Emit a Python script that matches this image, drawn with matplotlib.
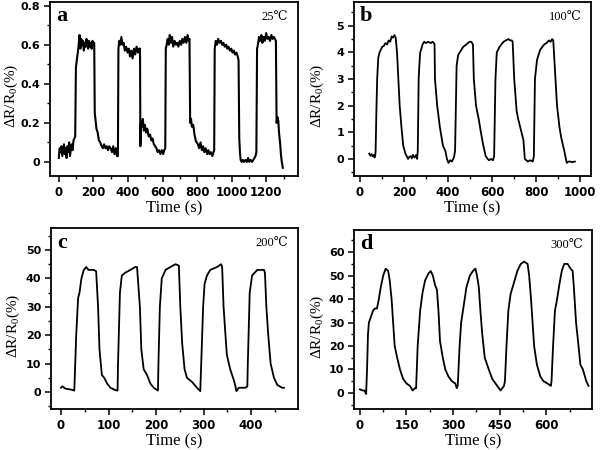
import matplotlib

matplotlib.use("Agg")

import matplotlib.pyplot as plt  # noqa: E402
from matplotlib.ticker import MultipleLocator  # noqa: E402

plt.rcParams["mathtext.default"] = "regular"

SERIF = ["Liberation Serif", "DejaVu Serif"]
SANS = ["DejaVu Sans"]

# panel a, 25 C
a_time = [0, 5, 10, 15, 20, 25, 30, 35, 40, 45, 50, 55, 60, 65, 70, 75, 80, 85, 90, 95,
          99, 104, 110, 115, 120, 125, 130, 135, 140, 145, 150, 155, 160, 165, 170, 175,
          180, 185, 190, 195, 200, 205, 208, 212, 218, 225, 232, 240, 248, 255, 262, 270,
          278, 285, 292, 300, 308, 315, 322, 330, 336, 342, 345, 350, 355, 362, 368, 375,
          382, 390, 398, 405, 412, 420, 427, 435, 442, 450, 458, 465, 470, 472, 475, 480,
          486, 492, 498, 505, 512, 520, 528, 535, 542, 550, 558, 565, 572, 580, 588, 596,
          604, 610, 616, 619, 624, 630, 636, 642, 648, 655, 662, 670, 678, 685, 692, 700,
          708, 715, 722, 730, 738, 745, 752, 756, 760, 765, 770, 778, 785, 792, 798, 805,
          812, 820, 828, 835, 842, 850, 858, 865, 872, 880, 888, 895, 899, 902, 908, 915,
          922, 930, 938, 945, 952, 960, 968, 975, 982, 990, 998, 1005, 1012, 1020, 1028,
          1035, 1040, 1044, 1048, 1052, 1058, 1065, 1072, 1080, 1088, 1095, 1102, 1110,
          1118, 1125, 1132, 1138, 1143, 1147, 1152, 1158, 1165, 1172, 1178, 1185, 1192,
          1200, 1207, 1214, 1222, 1230, 1237, 1244, 1250, 1256, 1260, 1265, 1270, 1274,
          1280, 1285, 1290, 1296]
a_resp = [0.02, 0.07, 0.05, 0.08, 0.03, 0.06, 0.09, 0.04, 0.07, 0.02, 0.08, 0.05, 0.10,
          0.03, 0.07, 0.09, 0.06, 0.11, 0.12, 0.13, 0.48, 0.52, 0.56, 0.60, 0.65, 0.58,
          0.63, 0.60, 0.62, 0.57, 0.61, 0.59, 0.63, 0.60, 0.58, 0.62, 0.59, 0.61, 0.58,
          0.62, 0.60, 0.61, 0.25, 0.22, 0.17, 0.15, 0.11, 0.10, 0.08, 0.07, 0.09, 0.07,
          0.08, 0.06, 0.08, 0.07, 0.05, 0.08, 0.04, 0.07, 0.03, 0.03, 0.58, 0.62, 0.60,
          0.64, 0.60, 0.61, 0.57, 0.59, 0.56, 0.58, 0.54, 0.57, 0.53, 0.58, 0.55, 0.59,
          0.56, 0.58, 0.58, 0.08, 0.20, 0.18, 0.22, 0.16, 0.19, 0.15, 0.17, 0.13, 0.14,
          0.11, 0.12, 0.09, 0.08, 0.07, 0.05, 0.06, 0.04, 0.06, 0.04, 0.06, 0.07, 0.58,
          0.60, 0.63, 0.60, 0.65, 0.61, 0.64, 0.59, 0.62, 0.60, 0.61, 0.59, 0.62, 0.60,
          0.63, 0.61, 0.64, 0.61, 0.65, 0.62, 0.63, 0.20, 0.22, 0.18, 0.19, 0.14, 0.11,
          0.10, 0.09, 0.07, 0.10, 0.06, 0.08, 0.05, 0.07, 0.04, 0.06, 0.04, 0.05, 0.03,
          0.05, 0.06, 0.58, 0.62, 0.60, 0.63, 0.61, 0.62, 0.60, 0.61, 0.59, 0.60, 0.58,
          0.59, 0.57, 0.58, 0.56, 0.57, 0.55, 0.56, 0.54, 0.52, 0.12, 0.05, 0.01, 0.00,
          0.01, 0.00, 0.01, 0.00, 0.02, 0.00, 0.01, 0.00, 0.01, 0.02, 0.03, 0.05, 0.58,
          0.60, 0.64, 0.62, 0.65, 0.61, 0.64, 0.62, 0.66, 0.63, 0.64, 0.62, 0.65, 0.63,
          0.64, 0.63, 0.62, 0.20, 0.23, 0.21, 0.15, 0.10, 0.04, 0.00, -0.03]

# panel b, 100 C
b_time = [43, 48, 53, 58, 63, 67, 70, 72, 76, 79, 84, 90, 101, 110, 116, 124, 131, 138,
          145, 151, 157, 163, 169, 175, 181, 189, 197, 207, 219, 225, 231, 236, 241, 248,
          256, 260, 263, 267, 270, 274, 278, 285, 292, 300, 310, 322, 330, 336, 339, 341,
          351, 363, 377, 388, 395, 402, 410, 417, 424, 428, 432, 439, 446, 453, 461, 468,
          476, 483, 490, 498, 505, 513, 517, 527, 539, 549, 560, 571, 580, 586, 595, 604,
          609, 615, 621, 627, 633, 642, 652, 662, 674, 682, 689, 693, 700, 711, 718, 733,
          742, 748, 755, 762, 772, 784, 789, 794, 803, 810, 818, 827, 836, 846, 858, 865,
          872, 877, 887, 894, 905, 913, 927, 938, 945, 953, 962, 975]
b_resp = [0.20, 0.12, 0.18, 0.10, 0.15, 0.05, 0.12, 0.30, 2.00, 3.00, 3.80, 4.00, 4.20,
          4.25, 4.35, 4.30, 4.45, 4.40, 4.60, 4.55, 4.65, 4.55, 4.00, 3.00, 2.00, 1.20,
          0.50, 0.20, 0.00, 0.08, 0.10, 0.02, 0.15, 0.05, 0.15, 0.00, 0.30, 3.00, 3.50,
          4.00, 4.10, 4.30, 4.40, 4.35, 4.40, 4.35, 4.40, 4.35, 4.30, 3.00, 2.00, 1.20,
          0.50, 0.30, 0.00, -0.15, -0.05, -0.10, 0.00, 0.10, 0.30, 3.50, 3.90, 4.00, 4.10,
          4.20, 4.25, 4.30, 4.35, 4.40, 4.40, 4.30, 3.00, 2.00, 1.50, 1.00, 0.50, 0.10,
          0.00, -0.05, 0.00, -0.05, 0.10, 3.00, 4.00, 4.10, 4.20, 4.30, 4.40, 4.45, 4.50,
          4.45, 4.45, 4.40, 3.00, 1.80, 1.50, 1.00, 0.70, 0.00, -0.05, -0.10, -0.05, -0.10,
          0.10, 3.00, 3.70, 3.90, 4.10, 4.20, 4.30, 4.35, 4.45, 4.40, 4.50, 4.45, 3.00,
          2.00, 1.20, 0.80, 0.30, -0.15, -0.10, -0.10, -0.12, -0.10]

# panel c, 200 C
c_time = [0, 3, 9, 16, 23, 28, 30, 32, 36, 39, 43, 48, 53, 58, 63, 69, 74, 78, 81, 86,
          91, 97, 104, 114, 119, 120, 124, 128, 135, 146, 156, 160, 166, 169, 174, 181,
          188, 195, 204, 205, 208, 212, 220, 230, 241, 248, 251, 255, 260, 265, 276, 286,
          293, 295, 299, 302, 307, 314, 328, 337, 339, 342, 346, 349, 356, 364, 367, 369,
          374, 388, 392, 393, 397, 402, 413, 427, 429, 432, 436, 441, 448, 455, 465, 469]
c_resp = [1.5, 2.0, 1.2, 1.0, 0.8, 0.5, 10.0, 20.0, 33.0, 35.0, 40.0, 43.0, 44.0, 43.0,
          43.0, 43.0, 42.5, 30.0, 15.0, 6.0, 5.0, 3.0, 1.5, 0.7, 0.5, 10.0, 35.0, 41.0,
          42.0, 43.0, 44.0, 44.0, 30.0, 15.0, 8.0, 6.0, 3.0, 1.5, 0.5, 10.0, 30.0, 40.0,
          43.0, 44.0, 45.0, 44.5, 30.0, 17.0, 8.0, 5.0, 3.5, 1.5, 0.3, 10.0, 30.0, 38.0,
          41.0, 43.0, 44.0, 45.0, 44.0, 30.0, 20.0, 13.0, 8.0, 4.0, 2.0, 0.3, 1.5, 1.5,
          2.0, 10.0, 35.0, 41.0, 43.0, 43.0, 42.0, 30.0, 20.0, 10.0, 5.0, 2.5, 1.5, 1.5]

# panel d, 300 C
d_time = [0, 10, 15, 20, 23, 26, 29, 37, 42, 48, 55, 61, 67, 75, 83, 91, 96, 102, 107,
          112, 120, 129, 139, 150, 161, 170, 177, 181, 186, 194, 202, 210, 221, 228, 235,
          242, 248, 253, 258, 267, 275, 285, 296, 307, 312, 315, 321, 326, 334, 343, 354,
          364, 372, 377, 383, 388, 394, 402, 415, 426, 442, 453, 464, 467, 472, 478, 485,
          496, 507, 518, 529, 540, 545, 551, 556, 561, 570, 581, 591, 604, 615, 617, 622,
          628, 635, 642, 650, 658, 669, 678, 685, 689, 696, 704, 710, 718, 729, 736]
d_resp = [1.5, 1.0, 1.0, -0.5, 10.0, 25.0, 30.0, 33.0, 35.0, 36.0, 36.0, 40.0, 45.0,
          50.0, 53.0, 52.0, 48.0, 40.0, 30.0, 20.0, 15.0, 10.0, 6.0, 4.0, 3.0, 1.0, 2.0,
          2.0, 20.0, 35.0, 43.0, 48.0, 51.0, 52.0, 50.0, 46.0, 44.0, 35.0, 22.0, 15.0,
          10.0, 7.0, 5.0, 4.0, 2.0, 3.0, 20.0, 30.0, 37.0, 45.0, 50.0, 52.0, 53.0, 50.0,
          45.0, 35.0, 25.0, 15.0, 10.0, 6.0, 3.0, 1.0, 3.0, 5.0, 20.0, 35.0, 42.0, 47.0,
          52.0, 55.0, 56.0, 55.0, 50.0, 40.0, 30.0, 20.0, 12.0, 7.0, 5.0, 4.0, 3.0, 5.0,
          20.0, 35.0, 40.0, 46.0, 52.0, 55.0, 55.0, 53.0, 52.0, 45.0, 30.0, 20.0, 12.0,
          10.0, 5.0, 3.0]

panels = [
    dict(t=a_time, r=a_resp, letter="a", temp="25℃", rect=[0.083, 0.609, 0.414, 0.387],
         xlim=(-52, 1385), ylim=(-0.072, 0.82), xmaj=200, xmin=100, ymaj=0.2, ymin=0.1,
         yfmt=lambda v: "0" if abs(v) < 1e-9 else f"{v:.1f}", lw=1.5),
    dict(t=b_time, r=b_resp, letter="b", temp="100℃", rect=[0.59, 0.609, 0.395, 0.387],
         xlim=(-26, 1048), ylim=(-0.64, 5.9), xmaj=200, xmin=100, ymaj=1, ymin=0.5,
         yfmt=lambda v: f"{v:.0f}", lw=1.3),
    dict(t=c_time, r=c_resp, letter="c", temp="200℃", rect=[0.085, 0.091, 0.412, 0.402],
         xlim=(-21, 499), ylim=(-6, 57.7), xmaj=100, xmin=50, ymaj=10, ymin=5,
         yfmt=lambda v: f"{v:.0f}", lw=1.3),
    dict(t=d_time, r=d_resp, letter="d", temp="300℃", rect=[0.59, 0.091, 0.397, 0.398],
         xlim=(-19, 748), ylim=(-6.9, 69.5), xmaj=150, xmin=75, ymaj=10, ymin=5,
         yfmt=lambda v: f"{v:.0f}", lw=1.3),
]

fig = plt.figure(figsize=(6, 4.5), dpi=100)
fig.set_facecolor("white")

for p in panels:
    ax = fig.add_axes(p["rect"])
    ax.plot(p["t"], p["r"], color="black", linewidth=p["lw"])
    ax.set_xlim(*p["xlim"])
    ax.set_ylim(*p["ylim"])

    ax.xaxis.set_major_locator(MultipleLocator(p["xmaj"]))
    ax.xaxis.set_minor_locator(MultipleLocator(p["xmin"]))
    ax.yaxis.set_major_locator(MultipleLocator(p["ymaj"]))
    ax.yaxis.set_minor_locator(MultipleLocator(p["ymin"]))
    fmt = p["yfmt"]
    ax.yaxis.set_major_formatter(plt.FuncFormatter(lambda v, _, f=fmt: f(v)))
    ax.xaxis.set_major_formatter(plt.FuncFormatter(lambda v, _: f"{v:.0f}"))

    ax.tick_params(which="major", direction="out", length=4, width=1.1, pad=3)
    ax.tick_params(which="minor", direction="out", length=2.5, width=1.0)
    for lab in ax.get_xticklabels():
        lab.set_family(SANS)
        lab.set_fontweight("bold")
        lab.set_fontsize(8.5)
    for lab in ax.get_yticklabels():
        lab.set_family(SANS)
        lab.set_fontweight("bold")
        lab.set_fontsize(8)

    for spine in ax.spines.values():
        spine.set_linewidth(1.3)

    ax.set_xlabel("Time (s)", family=SERIF, fontsize=12, labelpad=1)
    ax.set_ylabel("ΔR/R$_0$(%)", family=SERIF, fontsize=11)
    ax.yaxis.set_label_coords(-0.118, 0.46)

    ax.text(0.025, 0.975, p["letter"], transform=ax.transAxes, ha="left", va="top",
            family=SERIF, fontweight="bold", fontsize=16)
    ax.text(0.96, 0.95, p["temp"], transform=ax.transAxes, ha="right", va="top",
            family=SERIF, fontsize=9)

fig.savefig("out.png", dpi=100, facecolor=fig.get_facecolor())
plt.close("all")
